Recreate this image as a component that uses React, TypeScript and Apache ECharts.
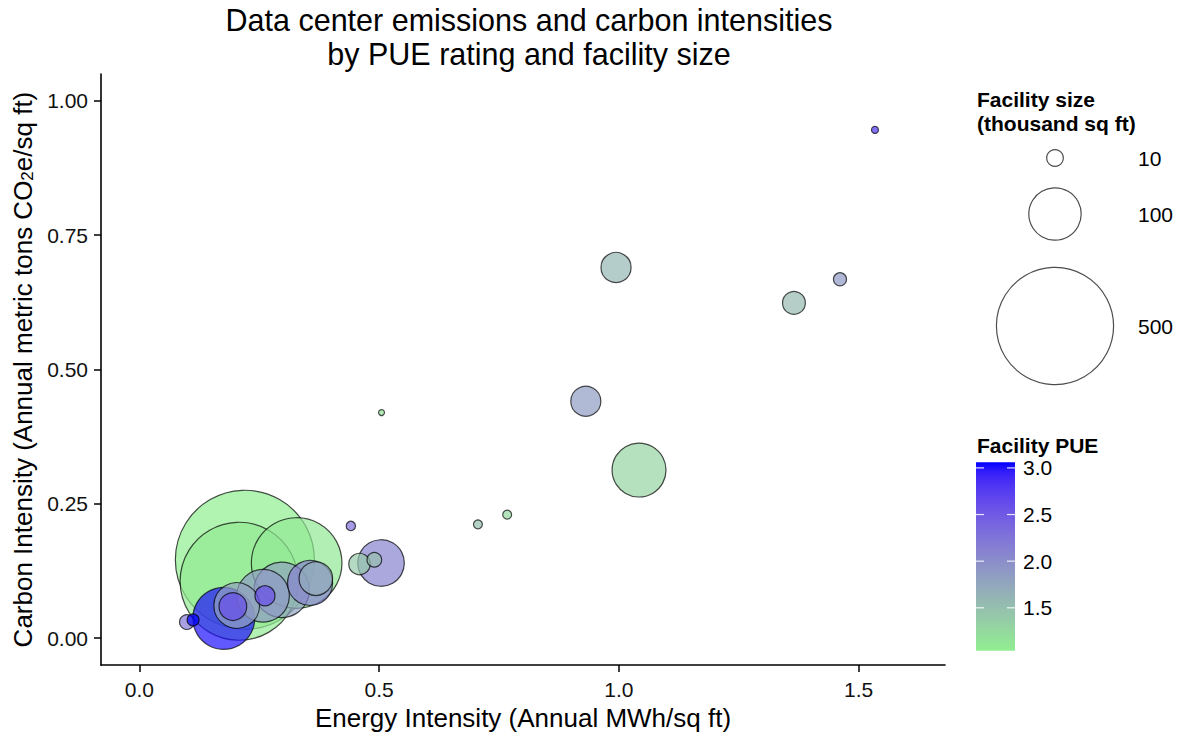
import React, { useEffect, useRef } from "react";
import * as echarts from "echarts";

// ---------------- data ----------------
const energyIntensity = [1.534, 0.994, 0.931, 1.461, 1.365, 1.042, 0.505, 0.706, 0.767, 0.441, 0.504, 0.459, 0.490, 0.220, 0.208, 0.328, 0.176, 0.099, 0.112, 0.203, 0.195, 0.258, 0.262, 0.297, 0.356, 0.368];
const carbonIntensity = [0.946, 0.690, 0.441, 0.668, 0.624, 0.313, 0.420, 0.212, 0.230, 0.209, 0.140, 0.138, 0.146, 0.146, 0.106, 0.140, 0.037, 0.030, 0.034, 0.061, 0.059, 0.079, 0.079, 0.090, 0.103, 0.111];
const facilitySize = [1.8, 33, 33, 6.2, 19, 106, 1.3, 2.9, 2.9, 3.2, 79, 16.7, 7.8, 704, 507, 299, 140, 7.8, 5.2, 76, 28, 101, 14.6, 112, 74, 41];
const facilityPUE = [2.8, 1.6, 1.85, 1.9, 1.55, 1.3, 1.15, 1.5, 1.25, 2.3, 2.1, 1.4, 1.5, 1.04, 1.08, 1.1, 3.0, 2.2, 3.06, 1.8, 2.6, 1.9, 2.6, 1.8, 2.1, 1.7];

const sizeBreaks = [10, 100, 500];
const pueBreaks = [1.5, 2.0, 2.5, 3.0];
const xTicks = [0, 0.5, 1.0, 1.5];
const yTicks = [0, 0.25, 0.5, 0.75, 1.0];

const PUE_MIN = 1.04;
const PUE_MAX = 3.06;
const LOW_COLOR = "#90EE90";
const HIGH_COLOR = "#0000FF";
const RADIUS_K = 2.62; // radius px per sqrt(size)

// ---------------- colour helpers (Lab interpolation like ggplot) ----------------
function hexToRgb(h: string): number[] {
  return [parseInt(h.slice(1, 3), 16), parseInt(h.slice(3, 5), 16), parseInt(h.slice(5, 7), 16)];
}
function toLin(c: number) {
  c /= 255;
  return c <= 0.04045 ? c / 12.92 : Math.pow((c + 0.055) / 1.055, 2.4);
}
function fromLin(c: number) {
  const v = c <= 0.0031308 ? 12.92 * c : 1.055 * Math.pow(Math.max(c, 0), 1 / 2.4) - 0.055;
  return Math.round(Math.max(0, Math.min(1, v)) * 255);
}
function rgbToLab(rgb: number[]): number[] {
  const R = toLin(rgb[0]), G = toLin(rgb[1]), B = toLin(rgb[2]);
  const X = (0.4124 * R + 0.3576 * G + 0.1805 * B) / 0.95047;
  const Y = 0.2126 * R + 0.7152 * G + 0.0722 * B;
  const Z = (0.0193 * R + 0.1192 * G + 0.9505 * B) / 1.08883;
  const f = (t: number) => (t > 0.008856 ? Math.cbrt(t) : 7.787 * t + 16 / 116);
  const fx = f(X), fy = f(Y), fz = f(Z);
  return [116 * fy - 16, 500 * (fx - fy), 200 * (fy - fz)];
}
function labToHex(lab: number[]): string {
  const fy = (lab[0] + 16) / 116;
  const fx = fy + lab[1] / 500;
  const fz = fy - lab[2] / 200;
  const inv = (t: number) => (t * t * t > 0.008856 ? t * t * t : (t - 16 / 116) / 7.787);
  const X = inv(fx) * 0.95047, Y = inv(fy), Z = inv(fz) * 1.08883;
  const r = fromLin(3.2406 * X - 1.5372 * Y - 0.4986 * Z);
  const g = fromLin(-0.9689 * X + 1.8758 * Y + 0.0415 * Z);
  const b = fromLin(0.0557 * X - 0.204 * Y + 1.057 * Z);
  return "#" + [r, g, b].map((v) => v.toString(16).padStart(2, "0")).join("");
}
function labStops(n: number): string[] {
  const a = rgbToLab(hexToRgb(LOW_COLOR));
  const b = rgbToLab(hexToRgb(HIGH_COLOR));
  const out: string[] = [];
  for (let i = 0; i < n; i++) {
    const t = i / (n - 1);
    out.push(labToHex([a[0] + (b[0] - a[0]) * t, a[1] + (b[1] - a[1]) * t, a[2] + (b[2] - a[2]) * t]));
  }
  return out;
}

const FONT = "'Liberation Sans', Arial, Helvetica, sans-serif";

export default function App() {
  const ref = useRef<HTMLDivElement>(null);
  useEffect(() => {
    if (!ref.current) return;
    const chart = echarts.init(ref.current, undefined, { renderer: "svg" });
    const colors = labStops(21);

    const points = energyIntensity.map((x, i) => [x, carbonIntensity[i], facilitySize[i], facilityPUE[i]]);
    points.sort((p, q) => q[2] - p[2]);

    // legend geometry
    const legLeft = 977;
    const sizeCx = 1055;
    const sizeCy = [158, 214, 326];
    const barX = 976, barW = 39, barTop = 462.3, barBottom = 650.7;
    const pueY = (v: number) => barBottom - ((v - PUE_MIN) / (PUE_MAX - PUE_MIN)) * (barBottom - barTop);

    const graphic: any[] = [
      { type: "text", left: legLeft, top: 89, style: { text: "Facility size", font: `bold 21px ${FONT}`, fill: "#000" } },
      { type: "text", left: legLeft, top: 113, style: { text: "(thousand sq ft)", font: `bold 21px ${FONT}`, fill: "#000" } },
      { type: "text", left: legLeft, top: 435, style: { text: "Facility PUE", font: `bold 21px ${FONT}`, fill: "#000" } },
    ];
    sizeBreaks.forEach((s, i) => {
      graphic.push({
        type: "circle",
        shape: { cx: sizeCx, cy: sizeCy[i], r: RADIUS_K * Math.sqrt(s) },
        style: { fill: "#fff", stroke: "#4d4d4d", lineWidth: 1.2 },
      });
      graphic.push({
        type: "text",
        x: 1138,
        y: sizeCy[i],
        style: { text: String(s), font: `21px ${FONT}`, fill: "#000", verticalAlign: "middle" },
      });
    });
    graphic.push({
      type: "rect",
      shape: { x: barX, y: barTop, width: barW, height: barBottom - barTop },
      style: {
        fill: new echarts.graphic.LinearGradient(
          0, 0, 0, 1,
          colors.map((c, i) => ({ offset: 1 - i / (colors.length - 1), color: c })).reverse()
        ),
      },
    });
    pueBreaks.forEach((v) => {
      const y = pueY(v);
      graphic.push({ type: "line", shape: { x1: barX, y1: y, x2: barX + 8, y2: y }, style: { stroke: "rgba(255,255,255,0.85)", lineWidth: 1.2 } });
      graphic.push({ type: "line", shape: { x1: barX + barW - 8, y1: y, x2: barX + barW, y2: y }, style: { stroke: "rgba(255,255,255,0.85)", lineWidth: 1.2 } });
      graphic.push({
        type: "text",
        x: 1023,
        y: y,
        style: { text: v.toFixed(1), font: `21px ${FONT}`, fill: "#000", verticalAlign: "middle" },
      });
    });

    const axisCommon = {
      axisLine: { show: true, onZero: false, lineStyle: { color: "#000", width: 1.6 } },
      axisTick: { show: true, length: 7, lineStyle: { color: "#000", width: 1.5 } },
      splitLine: { show: false },
    };

    chart.setOption({
      animation: false,
      textStyle: { fontFamily: FONT },
      title: {
        text: "Data center emissions and carbon intensities\nby PUE rating and facility size",
        left: 524,
        top: -2,
        textAlign: "center",
        textStyle: { fontSize: 30.5, fontWeight: "normal", color: "#000", lineHeight: 34, fontFamily: FONT },
      },
      grid: { left: 101, right: 236, top: 74, bottom: 67, containLabel: false },
      xAxis: {
        type: "value",
        min: -0.08,
        max: 1.68,
        ...axisCommon,
        axisTick: { ...axisCommon.axisTick, customValues: xTicks },
        axisLabel: { customValues: xTicks, formatter: (v: number) => v.toFixed(1), fontSize: 21, color: "#111", margin: 14, fontFamily: FONT },
        name: "Energy Intensity (Annual MWh/sq ft)",
        nameLocation: "middle",
        nameGap: 36,
        nameTextStyle: { fontSize: 26, color: "#000", fontFamily: FONT },
      },
      yAxis: {
        type: "value",
        min: -0.05,
        max: 1.05,
        ...axisCommon,
        axisTick: { ...axisCommon.axisTick, customValues: yTicks },
        axisLabel: { customValues: yTicks, formatter: (v: number) => v.toFixed(2), fontSize: 21, color: "#111", margin: 13, fontFamily: FONT },
        name: "Carbon Intensity (Annual metric tons CO{sub|2}e/sq ft)",
        nameLocation: "middle",
        nameGap: 64,
        nameTextStyle: {
          fontSize: 26,
          color: "#000",
          fontFamily: FONT,
          rich: { sub: { fontSize: 17, verticalAlign: "bottom", color: "#000", fontFamily: FONT } },
        },
      },
      visualMap: {
        show: false,
        type: "continuous",
        dimension: 3,
        seriesIndex: 0,
        min: PUE_MIN,
        max: PUE_MAX,
        inRange: { color: colors },
      },
      series: [
        {
          type: "scatter",
          data: points,
          symbol: "circle",
          symbolSize: (v: number[]) => 2 * RADIUS_K * Math.sqrt(v[2]),
          itemStyle: { opacity: 0.7, borderColor: "#000", borderWidth: 1.2 },
          silent: true,
          clip: false,
        },
      ],
      graphic,
    });
    return () => chart.dispose();
  }, []);
  return <div ref={ref} style={{ position: "absolute", left: 0, top: 0, width: 1181, height: 736 }} />;
}
